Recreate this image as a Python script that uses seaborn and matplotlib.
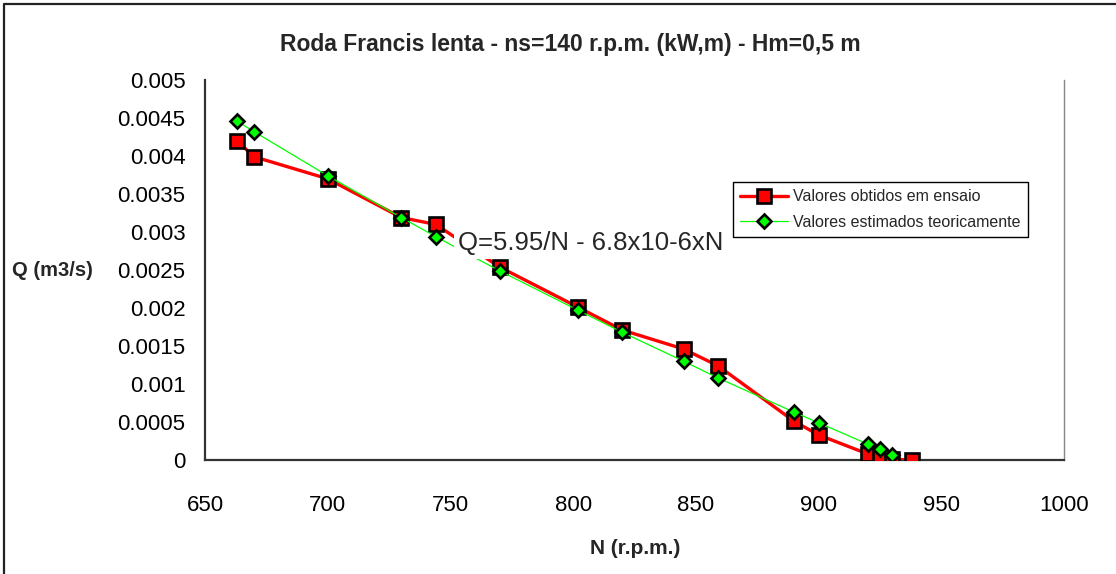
import matplotlib
matplotlib.use("Agg")
import matplotlib.pyplot as plt
from matplotlib.lines import Line2D
import seaborn as sns
import pandas as pd

# ---- data ----
n_measured = [663, 670, 700, 730, 744, 770, 802, 820, 845, 859, 890, 900, 920, 925, 930, 938]
q_measured = [0.00420, 0.00399, 0.00370, 0.00319, 0.00310, 0.00254, 0.00201, 0.00171,
              0.00146, 0.00124, 0.00051, 0.00033, 0.00008, 0.00004, 0.00001, 0.0]
n_theory = [663, 670, 700, 730, 744, 770, 802, 820, 845, 859, 890, 900, 920, 925, 930]
q_theory = [0.00446, 0.00432, 0.00374, 0.00319, 0.00294, 0.00249, 0.00197, 0.00168,
            0.00130, 0.00108, 0.00063, 0.00049, 0.00021, 0.00014, 0.00007]
x_ticks = [650, 700, 750, 800, 850, 900, 950, 1000]
y_ticks = [0, 0.0005, 0.001, 0.0015, 0.002, 0.0025, 0.003, 0.0035, 0.004, 0.0045, 0.005]
y_tick_labels = ["0", "0.0005", "0.001", "0.0015", "0.002", "0.0025", "0.003",
                 "0.0035", "0.004", "0.0045", "0.005"]
label_measured = "Valores obtidos em ensaio"
label_theory = "Valores estimados teoricamente"
title = "Roda Francis lenta - ns=140 r.p.m. (kW,m) - Hm=0,5 m"
equation = "Q=5.95/N - 6.8x10-6xN"
equation_pos = (753.0, 0.00286)

df_m = pd.DataFrame({"N": n_measured, "Q": q_measured})
df_t = pd.DataFrame({"N": n_theory, "Q": q_theory})

sns.set_style("white")
plt.rcParams["font.family"] = ["Liberation Sans", "DejaVu Sans"]

W, H = 1116, 574
fig = plt.figure(figsize=(W / 100, H / 100), dpi=100)
L, R, B, T = 205, 1064, 460, 80
ax = fig.add_axes([L / W, 1 - B / H, (R - L) / W, (B - T) / H])

sns.lineplot(data=df_m, x="N", y="Q", ax=ax, sort=False, color="#ff0000", linewidth=2.4,
             marker="s", markersize=10.5, markerfacecolor="#ff0000", markeredgecolor="black",
             markeredgewidth=1.9, label=label_measured, zorder=3)
sns.lineplot(data=df_t, x="N", y="Q", ax=ax, sort=False, color="#00ff00", linewidth=0.9,
             marker="D", markersize=7.5, markerfacecolor="#00ff00", markeredgecolor="black",
             markeredgewidth=1.9, label=label_theory, zorder=4)

ax.set_xlim(650, 1000)
ax.set_ylim(0, 0.005)
ax.set_xticks(x_ticks)
ax.set_xticklabels([str(v) for v in x_ticks])
ax.set_yticks(y_ticks)
ax.set_yticklabels(y_tick_labels)
ax.tick_params(axis="both", direction="inout", length=10, width=1, color="#333333",
               labelsize=16, labelcolor="black")
ax.tick_params(axis="x", pad=20)
ax.tick_params(axis="y", pad=9)
ax.set_xlabel("")
ax.set_ylabel("")
ax.grid(False)
for s in ["left", "bottom"]:
    ax.spines[s].set_color("#333333")
    ax.spines[s].set_linewidth(1.6)
ax.spines["right"].set_color("#888888")
ax.spines["right"].set_linewidth(1.0)
ax.spines["top"].set_visible(False)

leg = ax.legend(loc="upper left", bbox_to_anchor=((733 - L) / (R - L), (B - 182) / (B - T)),
                borderaxespad=0, fancybox=False, edgecolor="black", framealpha=1,
                fontsize=11.5, handlelength=3.0, labelspacing=0.65, borderpad=0.45,
                handletextpad=0.3)
leg.get_frame().set_linewidth(1.0)
leg.set_zorder(5)

ax.text(equation_pos[0], equation_pos[1], equation, fontsize=18.5, ha="left", va="center",
        zorder=6, bbox=dict(facecolor="white", edgecolor="none", pad=3))

fig.text(570 / W, 1 - 45 / H, title, ha="center", va="center", fontsize=16.5,
         fontweight="bold")
fig.text(12 / W, 1 - 270 / H, "Q (m3/s)", ha="left", va="center", fontsize=14.5,
         fontweight="bold")
fig.text(635 / W, 1 - 549 / H, "N (r.p.m.)", ha="center", va="center", fontsize=15,
         fontweight="bold")

fig.add_artist(Line2D([4 / W, 4 / W, 1.05], [-0.05, 1 - 4 / H, 1 - 4 / H],
                      transform=fig.transFigure, color="#222222", linewidth=1.6))

fig.savefig("out.png", dpi=100)
